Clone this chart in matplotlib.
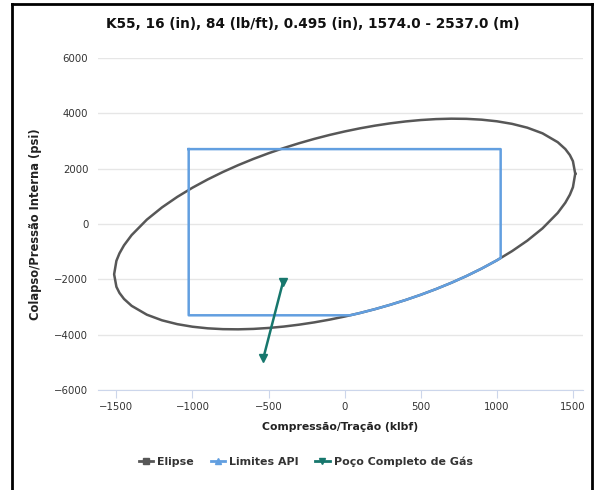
import matplotlib
matplotlib.use("Agg")
import matplotlib.pyplot as plt
from matplotlib.lines import Line2D

# von Mises ellipse (klbf, psi)
elipse_x = [1515, 1500, 1480, 1450, 1400, 1300, 1200, 1100, 1000, 900, 800, 700,
            600, 500, 400, 300, 200, 100, 0, -100, -200, -300, -400, -500, -600,
            -700, -800, -900, -1000, -1100, -1200, -1300, -1400, -1450, -1480,
            -1500, -1515, -1500, -1480, -1450, -1400, -1300, -1200, -1100, -1000,
            -900, -800, -700, -600, -500, -400, -300, -200, -100, 0, 100, 200,
            300, 400, 500, 600, 700, 800, 900, 1000, 1100, 1200, 1300, 1400,
            1450, 1480, 1500, 1515]
elipse_y = [1818, 2270, 2491, 2709, 2958, 3278, 3482, 3620, 3713, 3771, 3801, 3807,
            3792, 3758, 3707, 3639, 3556, 3458, 3345, 3218, 3076, 2919, 2747, 2558,
            2352, 2127, 1881, 1611, 1313, 980, 602, 158, -401, -770, -1061,
            -1330, -1818, -2270, -2491, -2709, -2958, -3278, -3482, -3620, -3713,
            -3771, -3801, -3807, -3792, -3758, -3707, -3639, -3556, -3458, -3345,
            -3218, -3076, -2919, -2747, -2558, -2352, -2127, -1881, -1611, -1313,
            -980, -602, -158, 401, 770, 1061, 1330, 1818]

# API limits: rectangle cut by the ellipse in the lower right corner
api_x = [-1025, 1025, 1025, 1000, 900, 800, 700, 600, 500, 400, 300, 200, 100,
         35, -1025, -1025]
api_y = [2707, 2707, -1230, -1313, -1611, -1881, -2127, -2352, -2558, -2747,
         -2919, -3076, -3218, -3300, -3300, 2707]

# load case
gas_x = [-405, -534]
gas_y = [-2090, -4840]

x_ticks = [-1500, -1000, -500, 0, 500, 1000, 1500]
y_ticks = [-6000, -4000, -2000, 0, 2000, 4000, 6000]

c_elipse = "#575757"
c_api = "#629fe0"
c_gas = "#17776d"

plt.rcParams["font.family"] = "DejaVu Sans"

fig = plt.figure(figsize=(5.95, 4.9), dpi=100)
ax = fig.add_axes([0.1647, 0.2041, 0.8151, 0.6775])

ax.plot(elipse_x, elipse_y, color=c_elipse, lw=1.8, zorder=3)
ax.plot(api_x, api_y, color=c_api, lw=1.8, zorder=4)
ax.plot(gas_x, gas_y, color=c_gas, lw=1.8, marker="v", ms=6, zorder=5)

ax.set_xlim(-1621, 1566)
ax.set_ylim(-6000, 6000)
ax.set_xticks(x_ticks)
ax.set_yticks(y_ticks)
ax.tick_params(axis="y", length=0, pad=7, labelsize=7.3, labelcolor="#333333")
ax.tick_params(axis="x", length=6, width=0.8, color="#ccd6eb", pad=3,
               labelsize=7.3, labelcolor="#333333")
ax.grid(axis="y", color="#e6e6e6", lw=1)
ax.set_axisbelow(True)
for s in ["top", "right", "left"]:
    ax.spines[s].set_visible(False)
ax.spines["bottom"].set_color("#ccd6eb")

ax.set_xlabel("Compressão/Tração (klbf)", fontsize=7.8, fontweight="bold",
              color="#222222", labelpad=7)
ax.set_ylabel("Colapso/Pressão Interna (psi)", fontsize=8.3, fontweight="bold",
              color="#222222", labelpad=9)

fig.text(0.526, 0.951, "K55, 16 (in), 84 (lb/ft), 0.495 (in), 1574.0 - 2537.0 (m)",
         ha="center", va="center", fontsize=9.8, fontweight="bold",
         color="#111111")

handles = [
    Line2D([], [], color=c_elipse, lw=2, marker="s", ms=5, label="Elipse"),
    Line2D([], [], color=c_api, lw=2, marker="^", ms=5, label="Limites API"),
    Line2D([], [], color=c_gas, lw=2, marker="v", ms=5, label="Poço Completo de Gás"),
]
leg = fig.legend(handles=handles, loc="center", bbox_to_anchor=(0.514, 0.057),
                 ncol=3, frameon=False, fontsize=7.9, handlelength=1.3,
                 handletextpad=0.4, columnspacing=1.5)
for t in leg.get_texts():
    t.set_fontweight("bold")
    t.set_color("#333333")

# frame round the figure
frame = dict(color="black", lw=2, transform=fig.transFigure)
fig.add_artist(Line2D([0.0202, 0.0202], [-0.01, 0.9918], **frame))
fig.add_artist(Line2D([0.0202, 0.995], [0.9918, 0.9918], **frame))
fig.add_artist(Line2D([0.995, 0.995], [0.9918, -0.01], **frame))

fig.savefig("out.png", dpi=100)
